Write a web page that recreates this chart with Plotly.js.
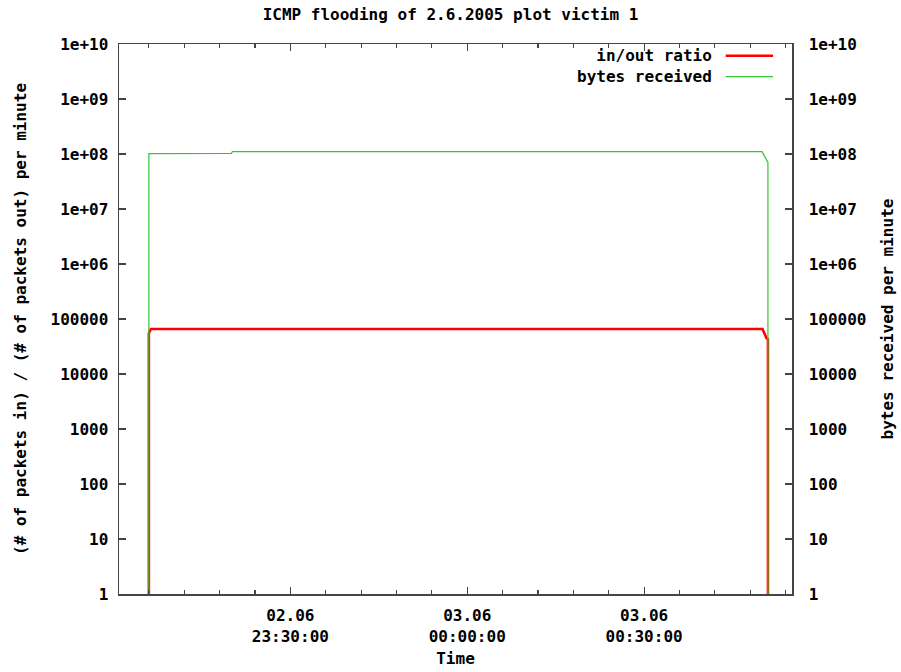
<!DOCTYPE html>
<html>
<head>
<meta charset="utf-8">
<script src="https://cdn.plot.ly/plotly-3.0.1.min.js"></script>
<style>
html,body{margin:0;padding:0;background:#fff;}
#chart{width:901px;height:672px;}
</style>
</head>
<body>
<div id="chart"></div>
<script>
// ---- data ----
const ratioTime = ["2005-06-02 23:06:00","2005-06-02 23:06:00","2005-06-02 23:06:20","2005-06-03 00:50:05","2005-06-03 00:50:45","2005-06-03 00:51:00","2005-06-03 00:51:00"];
const ratioVals = [0.5, 55000, 66000, 66000, 45000, 43000, 0.5];

const bytesTime = ["2005-06-02 23:06:00","2005-06-02 23:06:00","2005-06-02 23:20:00","2005-06-02 23:20:10","2005-06-03 00:50:00","2005-06-03 00:51:00","2005-06-03 00:51:00"];
const bytesVals = [0.5, 1.02e8, 1.03e8, 1.1e8, 1.1e8, 7.0e7, 0.5];

const xTickVals = ["2005-06-02 23:30:00","2005-06-03 00:00:00","2005-06-03 00:30:00"];
const xTickText = ["02.06<br>23:30:00","03.06<br>00:00:00","03.06<br>00:30:00"];
const yTickVals = [1,10,100,1000,10000,100000,1e6,1e7,1e8,1e9,1e10];
const yTickText = ["1","10","100","1000","10000","100000","1e+06","1e+07","1e+08","1e+09","1e+10"];
const seriesNames = ["in/out ratio","bytes received"];
const seriesColors = ["#ff0000","#33c633"];

const mono = {family:"DejaVu Sans Mono", size:16, color:"#000", weight:"bold"};

const traces = [
  {x: ratioTime, y: ratioVals, type:"scatter", mode:"lines", name: seriesNames[0],
   line:{color: seriesColors[0], width:2.6}, yaxis:"y", showlegend:false},
  {x: bytesTime, y: bytesVals, type:"scatter", mode:"lines", name: seriesNames[1],
   line:{color: seriesColors[1], width:1.2}, yaxis:"y2", showlegend:false}
];

const axisLine = {showline:true, linecolor:"#444", linewidth:1.5};

// legend geometry (pixels from the top of the page), converted to paper units
const legCenter = 66.2, legHalf = 10.4;
const pY = v => (594 - v) / 550;

const layout = {
  width:901, height:672,
  paper_bgcolor:"#fff", plot_bgcolor:"#fff",
  margin:{l:119, r:109, t:44, b:78},
  showlegend:false,
  title:{text:"ICMP flooding of 2.6.2005 plot victim 1", font:mono,
         x:0.5, xref:"container", xanchor:"center", y:1-14/672, yref:"container", yanchor:"middle"},
  xaxis: Object.assign({}, axisLine, {
    type:"date",
    range:["2005-06-02 23:00:56","2005-06-03 00:55:05"],
    tickmode:"array", tickvals:xTickVals, ticktext:xTickText,
    ticks:"inside", ticklen:7, tickcolor:"#444", tickwidth:1.2,
    mirror:"ticks",
    minor:{tickmode:"linear", tick0:"2005-06-02 23:00:00", dtick:360000, ticks:"inside", ticklen:4, tickcolor:"#444", tickwidth:1.2, showgrid:false},
    showgrid:false, zeroline:false,
    tickfont:mono, ticklabelstandoff:6,
    title:{text:"Time", font:mono, standoff:8}
  }),
  yaxis: Object.assign({}, axisLine, {
    type:"log", range:[0,10],
    tickmode:"array", tickvals:yTickVals, ticktext:yTickText,
    ticks:"inside", ticklen:7, tickcolor:"#444", tickwidth:1.2,
    showgrid:false, zeroline:false,
    tickfont:mono, ticklabelstandoff:6,
    title:{text:"(# of packets in) / (# of packets out) per minute", font:mono, standoff:20}
  }),
  yaxis2: Object.assign({}, axisLine, {
    type:"log", range:[0,10], overlaying:"y", side:"right",
    tickmode:"array", tickvals:yTickVals, ticktext:yTickText,
    ticks:"inside", ticklen:7, tickcolor:"#444", tickwidth:1.2,
    showgrid:false, zeroline:false,
    tickfont:mono, ticklabelstandoff:12,
    title:{text:"bytes received per minute", font:mono, standoff:16}
  }),
  annotations:[
    {text: seriesNames[0] + "<br>" + seriesNames[1], xref:"paper", yref:"paper",
     x:0.884, y:pY(legCenter), xanchor:"right", yanchor:"middle", align:"right",
     showarrow:false, font:mono}
  ],
  shapes:[
    {type:"line", xref:"paper", yref:"paper", x0:0.9015, x1:0.9718, y0:pY(legCenter-legHalf), y1:pY(legCenter-legHalf), line:{color:seriesColors[0], width:2.6}},
    {type:"line", xref:"paper", yref:"paper", x0:0.9015, x1:0.9718, y0:pY(legCenter+legHalf), y1:pY(legCenter+legHalf), line:{color:seriesColors[1], width:1.2}}
  ]
};

Plotly.newPlot("chart", traces, layout, {staticPlot:true, displayModeBar:false});
</script>
</body>
</html>
